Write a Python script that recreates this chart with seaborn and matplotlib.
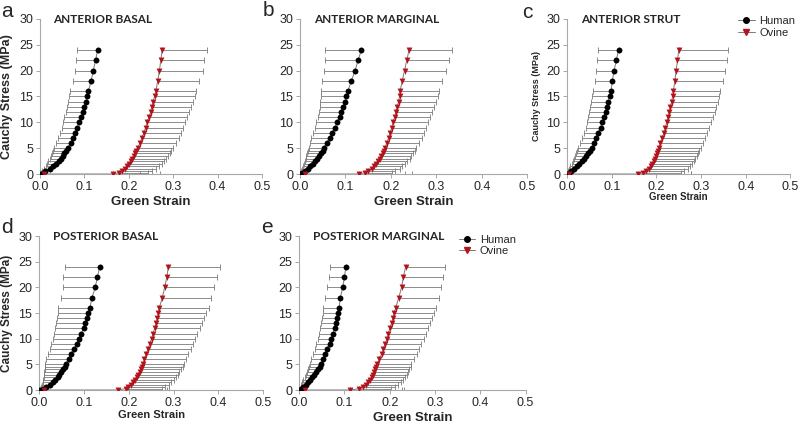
import numpy as np
import pandas as pd
import seaborn as sns
import matplotlib.pyplot as plt
from matplotlib.lines import Line2D

# stress levels (MPa) shared by every panel
human_stress = [0, 0.25, 0.5, 1, 1.5, 2, 2.5, 3, 3.5, 4, 4.5,
                5, 6, 7, 8, 9, 10, 11, 12, 13, 14, 15, 16,
                18, 20, 22, 24]
ovine_stress = [0, 0, 0.25, 0.5, 1, 1.5, 2, 2.5, 3, 3.5, 4, 4.5,
                5, 6, 7, 8, 9, 10, 11, 12, 13, 14, 15, 16,
                18, 20, 22, 24]

panels = ['a', 'b', 'c', 'd', 'e']
titles = ['ANTERIOR BASAL', 'ANTERIOR MARGINAL', 'ANTERIOR STRUT',
          'POSTERIOR BASAL', 'POSTERIOR MARGINAL']

# mean green strain, human (error bars to the left)
human_a = [0.000, 0.006, 0.012, 0.022, 0.030, 0.036, 0.042, 0.047, 0.051, 0.055, 0.059,
           0.063, 0.069, 0.074, 0.079, 0.084, 0.088, 0.092, 0.096, 0.100, 0.103, 0.106, 0.109,
           0.115, 0.120, 0.125, 0.130]
human_a_err = [0.000, 0.004, 0.008, 0.013, 0.017, 0.020, 0.023, 0.025, 0.027, 0.029, 0.030,
               0.031, 0.032, 0.033, 0.034, 0.035, 0.036, 0.037, 0.038, 0.039, 0.040, 0.040, 0.041,
               0.040, 0.042, 0.044, 0.047]
human_b = [0.000, 0.005, 0.010, 0.017, 0.023, 0.028, 0.033, 0.038, 0.042, 0.046, 0.050,
           0.053, 0.059, 0.065, 0.071, 0.077, 0.082, 0.087, 0.091, 0.095, 0.099, 0.102, 0.105,
           0.113, 0.121, 0.128, 0.135]
human_b_err = [0.000, 0.004, 0.007, 0.012, 0.016, 0.019, 0.022, 0.025, 0.028, 0.030, 0.032,
               0.034, 0.037, 0.040, 0.042, 0.044, 0.046, 0.048, 0.050, 0.052, 0.054, 0.056, 0.058,
               0.064, 0.068, 0.073, 0.079]
human_c = [0.000, 0.004, 0.008, 0.015, 0.021, 0.027, 0.033, 0.038, 0.043, 0.047, 0.051,
           0.055, 0.060, 0.065, 0.070, 0.075, 0.079, 0.083, 0.086, 0.089, 0.092, 0.095, 0.098,
           0.101, 0.105, 0.110, 0.115]
human_c_err = [0.000, 0.003, 0.006, 0.010, 0.014, 0.017, 0.020, 0.023, 0.025, 0.027, 0.029,
               0.030, 0.031, 0.032, 0.033, 0.034, 0.035, 0.036, 0.037, 0.038, 0.039, 0.039, 0.040,
               0.038, 0.040, 0.043, 0.045]
human_d = [0.000, 0.008, 0.015, 0.025, 0.031, 0.036, 0.041, 0.045, 0.049, 0.053, 0.057,
           0.060, 0.066, 0.072, 0.078, 0.084, 0.089, 0.094, 0.099, 0.103, 0.107, 0.110, 0.113,
           0.118, 0.125, 0.130, 0.135]
human_d_err = [0.000, 0.006, 0.012, 0.018, 0.023, 0.027, 0.031, 0.035, 0.038, 0.041, 0.044,
               0.047, 0.050, 0.053, 0.055, 0.057, 0.059, 0.061, 0.063, 0.065, 0.067, 0.068, 0.070,
               0.070, 0.072, 0.076, 0.078]
human_e = [0.000, 0.004, 0.008, 0.014, 0.019, 0.024, 0.029, 0.033, 0.038, 0.042, 0.046,
           0.049, 0.053, 0.058, 0.062, 0.067, 0.071, 0.075, 0.078, 0.081, 0.084, 0.086, 0.088,
           0.091, 0.096, 0.100, 0.103]
human_e_err = [0.000, 0.003, 0.005, 0.009, 0.012, 0.015, 0.017, 0.019, 0.021, 0.023, 0.024,
               0.025, 0.026, 0.027, 0.028, 0.029, 0.030, 0.031, 0.031, 0.032, 0.033, 0.034, 0.035,
               0.033, 0.034, 0.034, 0.035]

# mean green strain, ovine (error bars to the right)
ovine_a = [0.008, 0.165, 0.178, 0.185, 0.192, 0.197, 0.201, 0.205, 0.208, 0.211, 0.214, 0.217,
           0.220, 0.225, 0.230, 0.234, 0.238, 0.242, 0.246, 0.249, 0.252, 0.255, 0.258, 0.261,
           0.265, 0.269, 0.272, 0.275]
ovine_a_err = [0.262, 0.060, 0.065, 0.068, 0.070, 0.072, 0.074, 0.075, 0.076, 0.077, 0.078, 0.079,
               0.080, 0.081, 0.082, 0.083, 0.084, 0.085, 0.086, 0.087, 0.088, 0.089, 0.090, 0.090,
               0.093, 0.097, 0.098, 0.100]
ovine_b = [0.012, 0.130, 0.143, 0.150, 0.158, 0.163, 0.168, 0.172, 0.176, 0.179, 0.182, 0.185,
           0.187, 0.191, 0.195, 0.198, 0.202, 0.205, 0.208, 0.211, 0.214, 0.217, 0.219, 0.220,
           0.225, 0.230, 0.235, 0.240]
ovine_b_err = [0.235, 0.100, 0.060, 0.060, 0.061, 0.062, 0.063, 0.064, 0.065, 0.066, 0.067, 0.068,
               0.069, 0.071, 0.073, 0.074, 0.076, 0.077, 0.079, 0.080, 0.081, 0.083, 0.084, 0.085,
               0.088, 0.091, 0.093, 0.095]
ovine_c = [0.005, 0.158, 0.170, 0.176, 0.183, 0.187, 0.191, 0.194, 0.197, 0.199, 0.201, 0.203,
           0.205, 0.209, 0.213, 0.217, 0.220, 0.223, 0.226, 0.229, 0.231, 0.234, 0.236, 0.238,
           0.241, 0.244, 0.247, 0.250]
ovine_c_err = [0.272, 0.120, 0.085, 0.086, 0.087, 0.088, 0.089, 0.090, 0.090, 0.091, 0.092, 0.093,
               0.094, 0.095, 0.096, 0.097, 0.098, 0.099, 0.100, 0.101, 0.102, 0.103, 0.104, 0.105,
               0.107, 0.109, 0.110, 0.110]
ovine_d = [0.010, 0.175, 0.193, 0.199, 0.205, 0.210, 0.214, 0.218, 0.221, 0.224, 0.227, 0.229,
           0.231, 0.235, 0.239, 0.243, 0.247, 0.251, 0.254, 0.258, 0.261, 0.264, 0.266, 0.268,
           0.275, 0.280, 0.285, 0.288]
ovine_d_err = [0.280, 0.110, 0.080, 0.082, 0.084, 0.085, 0.086, 0.087, 0.088, 0.089, 0.090, 0.091,
               0.092, 0.093, 0.094, 0.095, 0.096, 0.097, 0.098, 0.100, 0.102, 0.104, 0.107, 0.110,
               0.108, 0.110, 0.112, 0.115]
ovine_e = [0.012, 0.112, 0.133, 0.140, 0.147, 0.152, 0.157, 0.160, 0.163, 0.166, 0.168, 0.170,
           0.172, 0.177, 0.182, 0.186, 0.190, 0.194, 0.197, 0.200, 0.204, 0.207, 0.210, 0.213,
           0.220, 0.226, 0.230, 0.235]
ovine_e_err = [0.215, 0.120, 0.070, 0.071, 0.072, 0.072, 0.073, 0.074, 0.074, 0.075, 0.075, 0.076,
               0.076, 0.077, 0.078, 0.079, 0.080, 0.082, 0.083, 0.084, 0.085, 0.086, 0.088, 0.090,
               0.089, 0.088, 0.088, 0.088]

human = {'a': (human_a, human_a_err), 'b': (human_b, human_b_err), 'c': (human_c, human_c_err),
         'd': (human_d, human_d_err), 'e': (human_e, human_e_err)}
ovine = {'a': (ovine_a, ovine_a_err), 'b': (ovine_b, ovine_b_err), 'c': (ovine_c, ovine_c_err),
         'd': (ovine_d, ovine_d_err), 'e': (ovine_e, ovine_e_err)}

rows = []
for p in panels:
    for s, e, y in zip(human[p][0], human[p][1], human_stress):
        rows.append((p, 'Human', s, y, e))
    for s, e, y in zip(ovine[p][0], ovine[p][1], ovine_stress):
        rows.append((p, 'Ovine', s, y, e))
df = pd.DataFrame(rows, columns=['panel', 'species', 'strain', 'stress', 'err'])

sns.set_style("white")
plt.rcParams['font.family'] = ['Liberation Sans', 'DejaVu Sans']

RED = '#b3141c'
GREY = '#7a7a7a'
marker_col = {'Human': 'black', 'Ovine': RED}
marker_sym = {'Human': 'o', 'Ovine': 'v'}

fig = plt.figure(figsize=(8, 4.26), dpi=100)
boxes = {
    'a': [0.050, 0.5915, 0.2775, 0.364],
    'b': [0.375, 0.5915, 0.2840, 0.364],
    'c': [0.709, 0.5915, 0.2790, 0.364],
    'd': [0.049, 0.0845, 0.2800, 0.3615],
    'e': [0.374, 0.0845, 0.2830, 0.3615],
}
ylabel_size = {'a': 9, 'b': None, 'c': 6.5, 'd': 8.5, 'e': None}
xlabel_size = {'a': 9.5, 'b': 9.5, 'c': 7, 'd': 8, 'e': 9.5}
xlabel_pad = {'a': 2, 'b': 2, 'c': -1, 'd': 1, 'e': 2}
letter_pos = {'a': (0.002, 0.974), 'b': (0.328, 0.976), 'c': (0.653, 0.970),
              'd': (0.002, 0.467), 'e': (0.327, 0.467)}

for p, title in zip(panels, titles):
    ax = fig.add_axes(boxes[p])
    sub = df[df['panel'] == p]
    for sp in ['Human', 'Ovine']:
        d = sub[sub['species'] == sp]
        if sp == 'Human':
            xerr = [d['err'].values, np.zeros(len(d))]
        else:
            xerr = [np.zeros(len(d)), d['err'].values]
        ax.errorbar(d['strain'], d['stress'], xerr=xerr, fmt='none',
                    ecolor=GREY, elinewidth=0.6, capsize=2, capthick=0.6, zorder=1)
        sns.lineplot(data=d, x='strain', y='stress', sort=False, estimator=None,
                     color=GREY, linewidth=0.7, ax=ax, zorder=2)
        sns.scatterplot(data=d, x='strain', y='stress', marker=marker_sym[sp],
                        color=marker_col[sp], s=18, linewidth=0, ax=ax, zorder=3)

    ax.set_xlim(0, 0.5)
    ax.set_ylim(0, 30)
    ax.set_xticks([0, 0.1, 0.2, 0.3, 0.4, 0.5])
    ax.set_xticklabels(['0.0', '0.1', '0.2', '0.3', '0.4', '0.5'])
    ax.set_yticks([0, 5, 10, 15, 20, 25, 30])
    ax.tick_params(axis='both', labelsize=9, length=3, width=0.6,
                   color='#999999', pad=2, direction='out', bottom=True, left=True)
    sns.despine(ax=ax)
    for side in ['left', 'bottom']:
        ax.spines[side].set_color('#a8a8a8')
        ax.spines[side].set_linewidth(0.8)
    ax.set_xlabel('Green Strain', fontsize=xlabel_size[p], fontweight='bold',
                  labelpad=xlabel_pad[p])
    if ylabel_size[p]:
        ax.set_ylabel('Cauchy Stress (MPa)', fontsize=ylabel_size[p], fontweight='bold', labelpad=4)
    else:
        ax.set_ylabel('')
    ax.text(0.06, 0.995, title, transform=ax.transAxes, ha='left', va='center',
            fontsize=8.5, fontweight='bold', family=['Lato', 'DejaVu Sans'])
    fig.text(letter_pos[p][0], letter_pos[p][1], p, fontsize=15, ha='left', va='center')

    if p in ('c', 'e'):
        handles = [Line2D([], [], color=GREY, lw=0.7, marker='o', markersize=4,
                          markerfacecolor='black', markeredgecolor='black'),
                   Line2D([], [], color=GREY, lw=0.7, marker='v', markersize=4,
                          markerfacecolor=RED, markeredgecolor=RED)]
        anchor = (0.73, 1.07) if p == 'c' else (0.67, 1.06)
        ax.legend(handles, ['Human', 'Ovine'], loc='upper left', bbox_to_anchor=anchor,
                  frameon=False, fontsize=8, handlelength=1.5, handletextpad=0.4,
                  labelspacing=0.15, borderpad=0.2)

fig.savefig('out.png', dpi=100)
